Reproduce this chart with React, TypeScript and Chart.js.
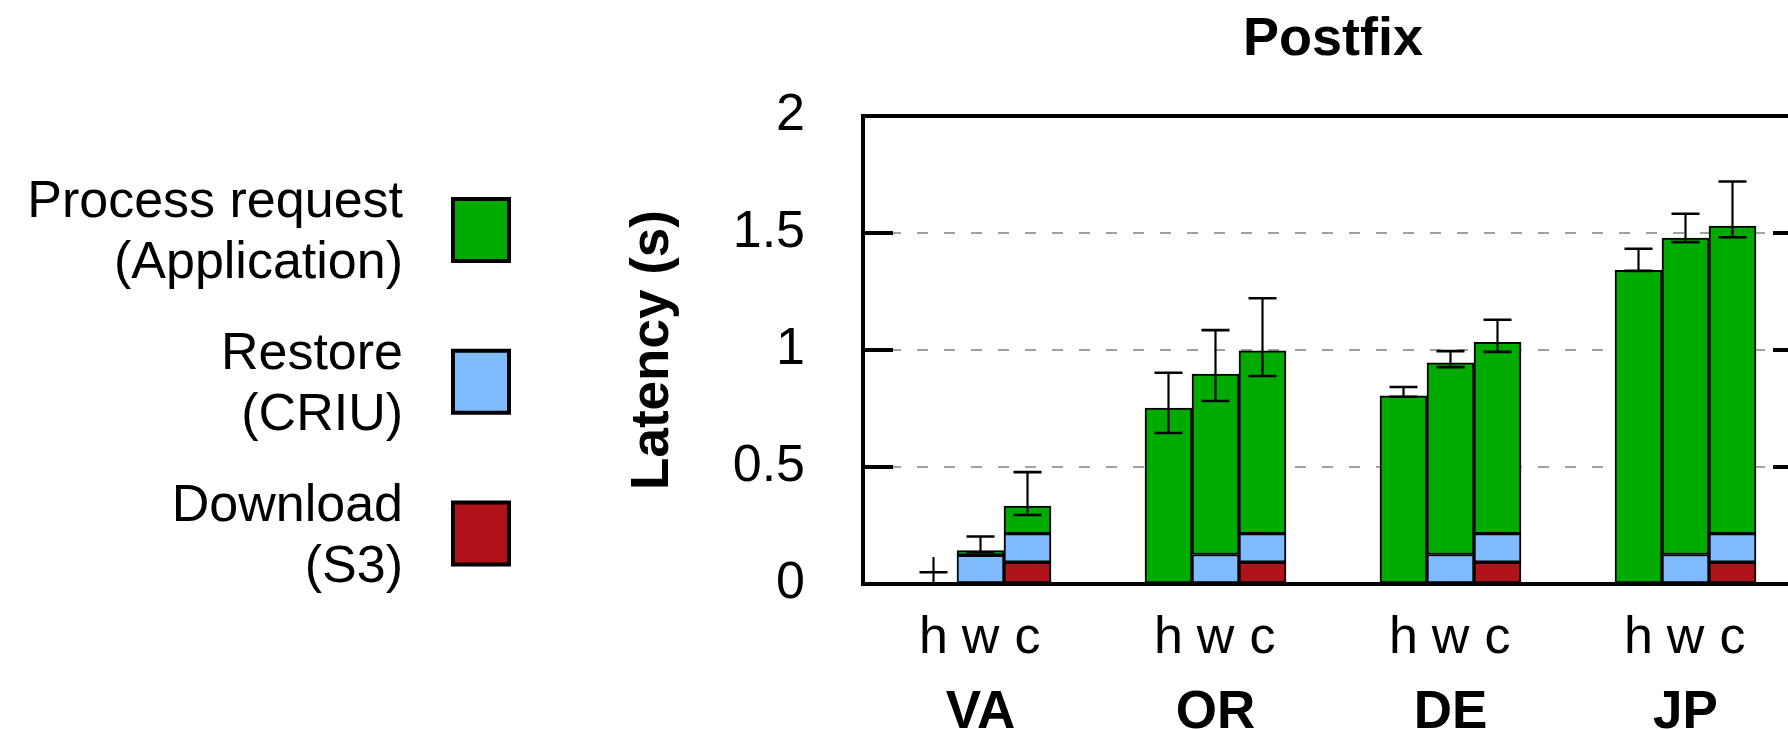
import { useEffect, useRef } from "react";
import { Chart, registerables } from "chart.js";

Chart.register(...registerables);

// ---------------- data ----------------
const chartTitle = "Postfix";
const yTitle = "Latency (s)";
const regions = ["VA", "OR", "DE", "JP"];
const barLabels = ["h", "w", "c", "h", "w", "c", "h", "w", "c", "h", "w", "c"];
// histogram slot positions of each bar (5 slots per region: gap, h, w, c, gap)
const barPositions = [1.5, 2.5, 3.5, 6.5, 7.5, 8.5, 11.5, 12.5, 13.5, 16.5, 17.5, 18.5];
const groupCenters = [2.5, 7.5, 12.5, 17.5];
const yTicks = [0, 0.5, 1, 1.5, 2];

const downloadS3 = [null, null, 0.093, null, null, 0.093, null, null, 0.093, null, null, 0.093];
const restoreCRIU = [null, 0.123, 0.122, null, 0.126, 0.122, null, 0.126, 0.122, null, 0.126, 0.122];
const processApp = [0.003, 0.02, 0.118, 0.752, 0.771, 0.781, 0.804, 0.819, 0.818, 1.34, 1.352, 1.315];

const errLow = [0, 0.136, 0.295, 0.645, 0.782, 0.889, 0.8, 0.927, 0.992, 1.338, 1.461, 1.482];
const errHigh = [0.05, 0.203, 0.478, 0.903, 1.085, 1.221, 0.842, 0.995, 1.129, 1.433, 1.582, 1.72];
const whiskerTop = [0.115, null, null, null, null, null, null, null, null, null, null, null];

const seriesNames = ["Download (S3)", "Restore (CRIU)", "Process request (Application)"];
const seriesLegend = [
  ["Download", "(S3)"],
  ["Restore", "(CRIU)"],
  ["Process request", "(Application)"],
];
const seriesColors = ["#b0141a", "#80baff", "#00ab00"];

// ---------------- drawing helpers ----------------
const FONT = '"Liberation Sans", Arial, Helvetica, sans-serif';
Chart.defaults.font.family = FONT;

const decor = {
  id: "decor",
  afterDatasetsDraw(chart: any) {
    const ctx = chart.ctx as CanvasRenderingContext2D;
    const xs = chart.scales.x;
    const ys = chart.scales.y;
    ctx.save();
    ctx.strokeStyle = "#000";
    ctx.lineCap = "butt";
    barPositions.forEach((p, i) => {
      const px = xs.getPixelForValue(p);
      const lo = ys.getPixelForValue(errLow[i]);
      const hi = ys.getPixelForValue(errHigh[i]);
      const wt = whiskerTop[i];
      const top = wt != null ? Math.min(hi, ys.getPixelForValue(wt)) : hi;
      ctx.lineWidth = 2.2;
      ctx.beginPath();
      ctx.moveTo(px, lo);
      ctx.lineTo(px, top);
      ctx.stroke();
      ctx.lineWidth = 2.6;
      ctx.beginPath();
      ctx.moveTo(px - 14, lo);
      ctx.lineTo(px + 14, lo);
      ctx.moveTo(px - 14, hi);
      ctx.lineTo(px + 14, hi);
      ctx.stroke();
    });
    ctx.restore();
  },
  afterDraw(chart: any) {
    const ctx = chart.ctx as CanvasRenderingContext2D;
    const { left, right, top, bottom } = chart.chartArea;
    const xs = chart.scales.x;
    const ys = chart.scales.y;
    ctx.save();
    // frame
    ctx.strokeStyle = "#000";
    ctx.lineWidth = 4;
    ctx.strokeRect(left, top, right - left, bottom - top);
    // inward ticks on both sides
    yTicks.forEach((v) => {
      const py = ys.getPixelForValue(v);
      ctx.beginPath();
      ctx.moveTo(left, py);
      ctx.lineTo(left + 30, py);
      ctx.moveTo(right, py);
      ctx.lineTo(right - 30, py);
      ctx.stroke();
    });
    ctx.fillStyle = "#000";
    // title
    ctx.font = `bold 54px ${FONT}`;
    ctx.textAlign = "center";
    ctx.textBaseline = "alphabetic";
    ctx.fillText(chartTitle, (left + right) / 2, 55);
    // region names
    ctx.font = `bold 53px ${FONT}`;
    groupCenters.forEach((g, i) => {
      ctx.fillText(regions[i], xs.getPixelForValue(g), 728);
    });
    // y title
    ctx.save();
    ctx.translate(668, (top + bottom) / 2);
    ctx.rotate(-Math.PI / 2);
    ctx.font = `bold 53px ${FONT}`;
    ctx.textAlign = "center";
    ctx.fillText(yTitle, 0, 0);
    ctx.restore();
    // legend (top to bottom: process, restore, download)
    const order = [2, 1, 0];
    order.forEach((di, k) => {
      const ds = chart.data.datasets[di];
      const cy = 230 + k * 151.75;
      ctx.fillStyle = ds.backgroundColor;
      ctx.fillRect(453, cy - 31, 56, 62);
      ctx.lineWidth = 4;
      ctx.strokeStyle = "#000";
      ctx.strokeRect(453, cy - 31, 56, 62);
      ctx.fillStyle = "#000";
      ctx.font = `52px ${FONT}`;
      ctx.textAlign = "right";
      ctx.fillText(seriesLegend[di][0], 403, cy - 13);
      ctx.fillText(seriesLegend[di][1], 403, cy + 48);
    });
    ctx.restore();
  },
};

export default function App() {
  const ref = useRef<HTMLCanvasElement>(null);

  useEffect(() => {
    document.body.style.margin = "0";
    document.body.style.overflow = "hidden";
    const series = [downloadS3, restoreCRIU, processApp];
    const chart = new Chart(ref.current as HTMLCanvasElement, {
      type: "bar",
      data: {
        datasets: series.map((vals, si) => ({
          label: seriesNames[si],
          data: barPositions.map((p, i) => ({ x: p, y: vals[i] })),
          backgroundColor: seriesColors[si],
          borderColor: "#000",
          borderWidth: 2,
          borderSkipped: false,
          barPercentage: 1,
          categoryPercentage: 1,
        })) as any,
      },
      options: {
        animation: false,
        responsive: false,
        maintainAspectRatio: false,
        layout: { padding: { top: 116, right: 27, left: 0, bottom: 0 } },
        plugins: {
          legend: { display: false },
          tooltip: { enabled: false },
          title: { display: false },
        },
        scales: {
          x: {
            type: "linear",
            min: 0,
            max: 20,
            stacked: true,
            offset: false,
            grid: { display: false, drawTicks: false },
            border: { display: false },
            afterBuildTicks: (s: any) => {
              s.ticks = barPositions.map((v) => ({ value: v }));
            },
            afterFit: (s: any) => {
              s.height = 146;
            },
            ticks: {
              autoSkip: false,
              maxRotation: 0,
              minRotation: 0,
              padding: 23,
              color: "#000",
              font: { size: 52 },
              callback: (_v: any, i: number) => barLabels[i],
            },
          },
          y: {
            type: "linear",
            min: 0,
            max: 2,
            stacked: true,
            afterBuildTicks: (s: any) => {
              s.ticks = yTicks.map((v) => ({ value: v }));
            },
            afterFit: (s: any) => {
              s.width = 863;
            },
            grid: {
              drawTicks: false,
              lineWidth: 2,
              color: (c: any) =>
                c.tick && (c.tick.value === 0 || c.tick.value === 2) ? "rgba(0,0,0,0)" : "#a0a0a0",
            },
            border: { display: false, dash: [11, 16] },
            ticks: {
              padding: 58,
              color: "#000",
              font: { size: 52 },
              callback: (v: any) => String(v),
            },
          },
        } as any,
      },
      plugins: [decor],
    });
    return () => chart.destroy();
  }, []);

  return (
    <div style={{ width: 1788, height: 730, overflow: "hidden", background: "#fff" }}>
      <canvas ref={ref} width={1830} height={730} style={{ display: "block", width: 1830, height: 730 }} />
    </div>
  );
}
